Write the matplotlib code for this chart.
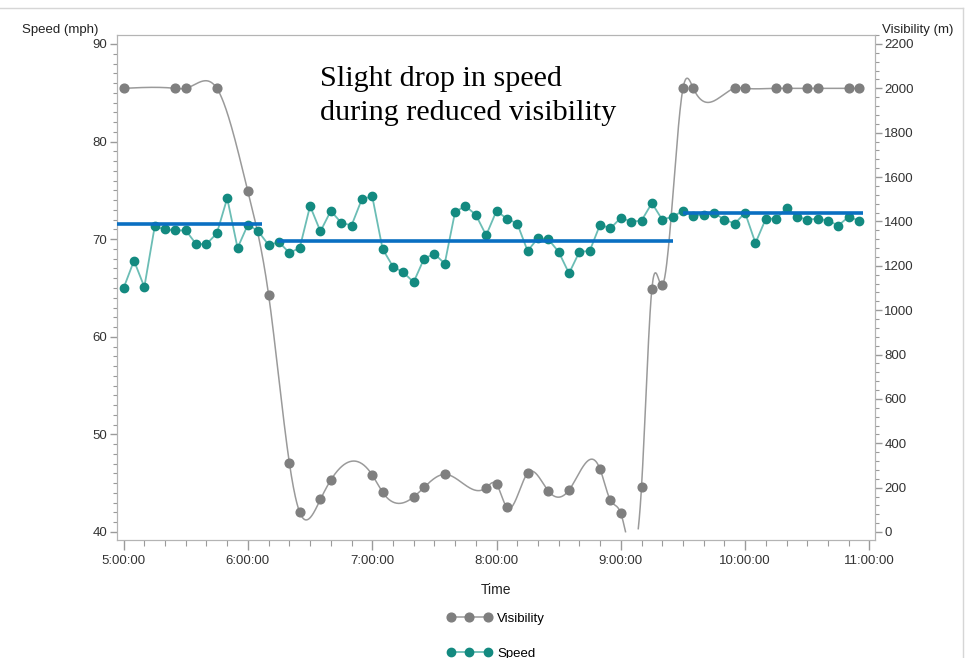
import numpy as np
import matplotlib
matplotlib.use("Agg")
import matplotlib.pyplot as plt
from matplotlib.lines import Line2D
from matplotlib.ticker import MultipleLocator, FuncFormatter

plt.rcParams['font.family'] = ['Liberation Sans', 'DejaVu Sans']

# speed every 5 minutes from 5:00 to 10:55 (minutes after 5:00)
speed_min = np.arange(0, 360, 5)
speed_mph = [65.0, 67.8, 65.1, 71.3, 71.0, 70.9, 70.9, 69.5, 69.5, 70.6,
             74.2, 69.1, 71.5, 70.8, 69.4, 69.7, 68.6, 69.1, 73.4, 70.8,
             72.9, 71.7, 71.4, 74.1, 74.4, 69.0, 67.2, 66.6, 65.6, 68.0,
             68.5, 67.5, 72.8, 73.4, 72.5, 70.4, 72.9, 72.1, 71.6, 68.8,
             70.1, 70.0, 68.7, 66.5, 68.7, 68.8, 71.5, 71.1, 72.2, 71.8,
             71.9, 73.7, 72.0, 72.3, 72.9, 72.4, 72.5, 72.7, 72.0, 71.6,
             72.7, 69.6, 72.1, 72.1, 73.2, 72.3, 72.0, 72.1, 71.9, 71.4,
             72.3, 71.9]

# visibility observations (minutes after 5:00, metres)
vis_min = [0, 25, 30, 45, 60, 70, 80, 85, 95, 100, 120, 125, 140, 145, 155,
           175, 180, 185, 195, 205, 215, 230, 235, 240, 250, 255, 260, 270,
           275, 295, 300, 315, 320, 330, 335, 350, 355]
vis_m = [2000, 2000, 2000, 2000, 1535, 1068, 312, 89, 147, 234, 257, 179,
         158, 201, 260, 200, 215, 111, 265, 185, 189, 283, 143, 84, 204,
         1097, 1112, 2000, 2000, 2000, 2000, 2000, 2000, 2000, 2000, 2000,
         2000]

# mean speed per period: start, end (minutes), level
mean_start = [-3.2, 74, 270]
mean_end = [66.6, 265, 357]
mean_mph = [71.6, 69.8, 72.7]


def natural_spline(x, y, xs):
    x = np.asarray(x, float)
    y = np.asarray(y, float)
    n = len(x)
    h = np.diff(x)
    A = np.zeros((n, n))
    b = np.zeros(n)
    A[0, 0] = A[-1, -1] = 1
    for i in range(1, n - 1):
        A[i, i - 1] = h[i - 1]
        A[i, i] = 2 * (h[i - 1] + h[i])
        A[i, i + 1] = h[i]
        b[i] = 3 * ((y[i + 1] - y[i]) / h[i] - (y[i] - y[i - 1]) / h[i - 1])
    c = np.linalg.solve(A, b)
    i = np.clip(np.searchsorted(x, xs) - 1, 0, n - 2)
    dx = xs - x[i]
    bb = (y[i + 1] - y[i]) / h[i] - h[i] * (2 * c[i] + c[i + 1]) / 3
    d = (c[i + 1] - c[i]) / (3 * h[i])
    return y[i] + bb * dx + c[i] * dx ** 2 + d * dx ** 3


fig = plt.figure(figsize=(9.67, 6.58), dpi=100)
ax = fig.add_axes([117 / 967, 1 - 540 / 658, 758 / 967, 505 / 658])
ax2 = ax.twinx()
ax.set_zorder(ax2.get_zorder() + 1)
ax.patch.set_visible(False)

teal = '#138a80'

# visibility
xs = np.linspace(vis_min[0], vis_min[-1], 1500)
ys = natural_spline(vis_min, vis_m, xs)
ys[ys < 0] = np.nan
ax2.plot(xs, ys, color='#9a9a9a', lw=1.1)
ax2.plot(vis_min, vis_m, 'o', color='#7f7f7f', ms=6.3, mec='#7f7f7f')

# speed
ax.plot(speed_min, speed_mph, '-', color='#6bbdb5', lw=1.3)
ax.plot(speed_min, speed_mph, 'o', color=teal, ms=6, mec=teal)
ax.hlines(mean_mph, mean_start, mean_end, color='#0a6fc2', lw=2.6, zorder=5)

lo, hi = 39.18, 90.92
ax.set_ylim(lo, hi)
ax2.set_ylim((lo - 40) * 44, (hi - 40) * 44)
ax.set_xlim(-3.2, 362.7)

ax.yaxis.set_major_locator(MultipleLocator(10))
ax.yaxis.set_minor_locator(MultipleLocator(1))
ax2.yaxis.set_major_locator(MultipleLocator(200))
ax2.yaxis.set_minor_locator(MultipleLocator(40))
ax.xaxis.set_major_locator(MultipleLocator(60))
ax.xaxis.set_minor_locator(MultipleLocator(10))
ax.xaxis.set_major_formatter(FuncFormatter(lambda v, p: f"{5 + int(v // 60)}:00:00"))

for a in (ax, ax2):
    for s in a.spines.values():
        s.set_color('#b4b4b4')
    a.tick_params(which='both', colors='#9a9a9a', labelcolor='#333333', labelsize=9.5)
    a.tick_params(which='major', length=5, width=1, pad=1.8)
    a.tick_params(which='minor', length=3, width=0.8)
ax.tick_params(axis='x', which='major', length=7, pad=4)
ax.tick_params(axis='x', which='minor', length=4)

ax.set_xlabel('Time', fontsize=10, color='#222222', labelpad=11)
fig.text(22 / 967, 1 - 30 / 658, 'Speed (mph)', fontsize=9.5, color='#222222', va='center')
fig.text(882 / 967, 1 - 30 / 658, 'Visibility (m)', fontsize=9.5, color='#222222', va='center')

fig.text(320 / 967, 1 - 66 / 658, 'Slight drop in speed\nduring reduced visibility',
         family='Liberation Serif', fontsize=21.7, va='top', linespacing=1.38)

h_vis = Line2D([], [], color='#9a9a9a', lw=1.1, marker='o', ms=6.3,
               mfc='#7f7f7f', mec='#7f7f7f')
h_spd = Line2D([], [], color='#6bbdb5', lw=1.3, marker='o', ms=6,
               mfc=teal, mec=teal)
fig.legend([h_vis, h_spd], ['Visibility', 'Speed'], loc='upper center',
           bbox_to_anchor=(496 / 967, 1 - 601 / 658), frameon=False,
           fontsize=9.5, numpoints=3, handlelength=3.4, labelspacing=1.7,
           handletextpad=0.4)

# screenshot frame
fig.add_artist(Line2D([0, 963 / 967], [1 - 8 / 658] * 2, color='#d6d6d6', lw=1))
fig.add_artist(Line2D([963 / 967] * 2, [1 - 8 / 658, 0], color='#d6d6d6', lw=1))

fig.savefig('out.png', dpi=100)
